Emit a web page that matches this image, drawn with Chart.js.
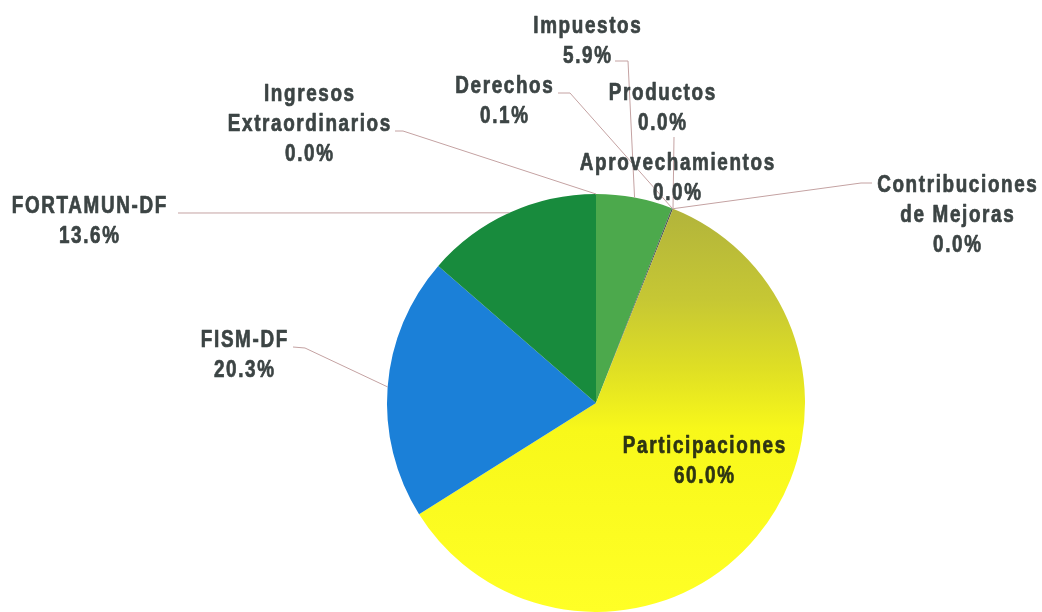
<!DOCTYPE html>
<html>
<head>
<meta charset="utf-8">
<script src="https://cdn.jsdelivr.net/npm/chart.js@4/dist/chart.umd.min.js"></script>
<style>
  html, body { margin: 0; padding: 0; background: #ffffff; }
  #wrap { width: 1042px; height: 612px; position: relative; }
</style>
</head>
<body>
<div id="wrap"><canvas id="c" width="1042" height="612"></canvas></div>
<script>
// ---- data ----
const categories = [
  'Impuestos',
  'Derechos',
  'Productos',
  'Aprovechamientos',
  'Contribuciones de Mejoras',
  'Participaciones',
  'FISM-DF',
  'FORTAMUN-DF',
  'Ingresos Extraordinarios'
];
const labelLines = [
  ['Impuestos'],
  ['Derechos'],
  ['Productos'],
  ['Aprovechamientos'],
  ['Contribuciones', 'de Mejoras'],
  ['Participaciones'],
  ['FISM-DF'],
  ['FORTAMUN-DF'],
  ['Ingresos', 'Extraordinarios']
];
const percentValues = [5.9, 0.1, 0.0, 0.0, 0.0, 60.0, 20.3, 13.6, 0.0];

// ---- styles ----
const sliceColors = ['#4ca94c', '#4d5858', '#4d5858', '#4d5858', '#4d5858', null, '#1b80d8', '#188b3d', '#188b3d'];
const textColor = '#3c4444';
const innerTextColor = '#2e3414';
const leaderColor = '#c4a2a2';
const FONT = 'bold 23px "Liberation Sans", Arial, sans-serif';
const SCALE_X = 0.82;
const LETTER_SP = 2;
const LINE_H = 30;

// label layout: center x, first baseline y, leader points (label side), inside flag
const labelLayout = [
  { x: 587, y: 33, leader: [[615, 61], [628, 61]] },
  { x: 504, y: 93, leader: [[558, 93], [570, 93]] },
  { x: 662, y: 100, leader: [[674, 137]] },
  { x: 677, y: 170, leader: null },
  { x: 957, y: 192, leader: [[872, 183], [861, 183]] },
  { x: 704, y: 453, leader: null, inside: true },
  { x: 244, y: 347, leader: [[293, 347], [305, 348]] },
  { x: 89, y: 213, leader: [[178, 213]] },
  { x: 309, y: 101, leader: [[395, 131], [403, 131]] }
];

function partGradient(ctx) {
  const chart = ctx.chart;
  const g = chart.ctx.createLinearGradient(0, 200, 0, 612);
  g.addColorStop(0.0, '#b0b23c');
  g.addColorStop(0.24, '#c6c734');
  g.addColorStop(0.41, '#dfdf24');
  g.addColorStop(0.56, '#f8f81a');
  g.addColorStop(1.0, '#ffff26');
  return g;
}

const labelPlugin = {
  id: 'pieLabels',
  afterDatasetsDraw(chart) {
    const ctx = chart.ctx;
    const meta = chart.getDatasetMeta(0);
    ctx.save();
    // leader lines
    ctx.strokeStyle = leaderColor;
    ctx.lineWidth = 1;
    meta.data.forEach((arc, i) => {
      const lay = labelLayout[i];
      if (!lay.leader) return;
      const p = arc.getProps(['x', 'y', 'startAngle', 'endAngle', 'outerRadius'], true);
      const mid = (p.startAngle + p.endAngle) / 2;
      const ax = p.x + Math.cos(mid) * p.outerRadius;
      const ay = p.y + Math.sin(mid) * p.outerRadius;
      ctx.beginPath();
      ctx.moveTo(lay.leader[0][0], lay.leader[0][1]);
      for (let k = 1; k < lay.leader.length; k++) ctx.lineTo(lay.leader[k][0], lay.leader[k][1]);
      ctx.lineTo(ax, ay);
      ctx.stroke();
    });
    // texts
    ctx.font = FONT;
    try { ctx.letterSpacing = LETTER_SP + 'px'; } catch (e) {}
    ctx.textAlign = 'center';
    ctx.textBaseline = 'alphabetic';
    ctx.lineJoin = 'round';
    meta.data.forEach((arc, i) => {
      const lay = labelLayout[i];
      const lines = labelLines[i].concat([percentValues[i].toFixed(1) + '%']);
      const col = lay.inside ? innerTextColor : textColor;
      ctx.fillStyle = col;
      ctx.strokeStyle = col;
      ctx.lineWidth = 0.7;
      lines.forEach((t, k) => {
        ctx.save();
        ctx.translate(lay.x, lay.y + k * LINE_H);
        ctx.scale(SCALE_X, 1);
        ctx.fillText(t, LETTER_SP / 2, 0);
        ctx.strokeText(t, LETTER_SP / 2, 0);
        ctx.restore();
      });
    });
    ctx.restore();
  }
};

new Chart(document.getElementById('c'), {
  type: 'pie',
  data: {
    labels: categories,
    datasets: [{
      data: percentValues,
      backgroundColor: (ctx) => ctx.dataIndex === 5 ? partGradient(ctx) : sliceColors[ctx.dataIndex],
      borderWidth: 0,
      hoverOffset: 0,
      hoverBorderWidth: 0
    }]
  },
  options: {
    responsive: false,
    animation: false,
    events: [],
    layout: { padding: { left: 387, top: 194, right: 237, bottom: 0 } },
    plugins: {
      legend: { display: false },
      tooltip: { enabled: false },
      title: { display: false }
    }
  },
  plugins: [labelPlugin]
});
</script>
</body>
</html>
